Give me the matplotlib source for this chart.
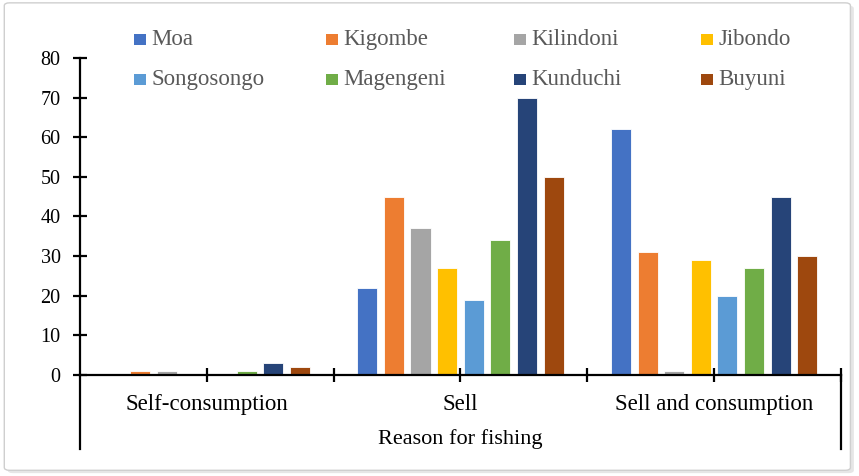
import numpy as np
import matplotlib

matplotlib.use("Agg")
import matplotlib.pyplot as plt
from matplotlib.patches import Rectangle, FancyBboxPatch
import matplotlib.transforms as mtransforms

categories = ["Self-consumption", "Sell", "Sell and consumption"]
sites = ["Moa", "Kigombe", "Kilindoni", "Jibondo",
         "Songosongo", "Magengeni", "Kunduchi", "Buyuni"]
colors = ["#4472C4", "#ED7D31", "#A5A5A5", "#FFC000",
          "#5B9BD5", "#70AD47", "#264478", "#9E480E"]

moa = [0, 22, 62]
kigombe = [1, 45, 31]
kilindoni = [1, 37, 1]
jibondo = [0, 27, 29]
songosongo = [0, 19, 20]
magengeni = [1, 34, 27]
kunduchi = [3, 70, 45]
buyuni = [2, 50, 30]
series = [moa, kigombe, kilindoni, jibondo, songosongo, magengeni, kunduchi, buyuni]

yticks = np.arange(0, 81, 10)

plt.rcParams["font.family"] = ["Liberation Serif", "DejaVu Serif"]

fig = plt.figure(figsize=(8.59, 4.76), dpi=100)

# outer frame with a soft shadow
shadow = FancyBboxPatch((0.009, 0.006), 0.985, 0.982, boxstyle="round,pad=0,rounding_size=0.006",
                        transform=fig.transFigure, facecolor="#e6e6e6", edgecolor="none", zorder=-3)
frame = FancyBboxPatch((0.005, 0.012), 0.985, 0.982, boxstyle="round,pad=0,rounding_size=0.006",
                       transform=fig.transFigure, facecolor="white", edgecolor="#cfcfcf",
                       linewidth=1.0, zorder=-2)
fig.patches.extend([shadow, frame])

ax = fig.add_axes([0.0931, 0.2122, 0.8859, 0.666])
ax.patch.set_alpha(0)

x = np.arange(len(categories))
pitch = 0.105
width = 0.079
for i, (name, vals, c) in enumerate(zip(sites, series, colors)):
    offs = (i - 3.5) * pitch
    ax.bar(x + offs, vals, width, color=c, edgecolor="white", linewidth=0.6, label=name, zorder=2)

ax.set_xlim(-0.5, 2.5)
ax.set_ylim(0, 80)
ax.set_yticks(yticks)
ax.tick_params(axis="y", direction="inout", length=10, width=1.6, labelsize=14.5, pad=9)

ax.set_xticks([0, 1, 2])
ax.set_xticklabels(categories)
ax.set_xticks([0.5, 1.5, 2.5], minor=True)
ax.tick_params(axis="x", which="both", direction="inout", length=10, width=1.6,
               labelsize=16.5, pad=9)
ax.set_xlabel("Reason for fishing", fontsize=16, labelpad=10)

for side in ["top", "right"]:
    ax.spines[side].set_visible(False)
for side in ["left", "bottom"]:
    ax.spines[side].set_linewidth(1.6)

# category-axis dividers running below the plot
trans = mtransforms.blended_transform_factory(ax.transData, ax.transAxes)
for xv in [-0.5, 2.5]:
    ax.plot([xv, xv], [0, -0.235], color="black", linewidth=1.6, transform=trans, clip_on=False)

# legend in two rows of four
leg_x = [0.156, 0.379, 0.598, 0.816]
leg_y = [0.918, 0.832]
for i, (name, c) in enumerate(zip(sites, colors)):
    px = leg_x[i % 4]
    py = leg_y[i // 4]
    fig.patches.append(Rectangle((px, py - 0.0115), 0.0140, 0.023, transform=fig.transFigure,
                                 facecolor=c, edgecolor="none"))
    fig.text(px + 0.0205, py, name, fontsize=16.5, color="#595959", va="center", ha="left")

fig.savefig("out.png", dpi=100)
